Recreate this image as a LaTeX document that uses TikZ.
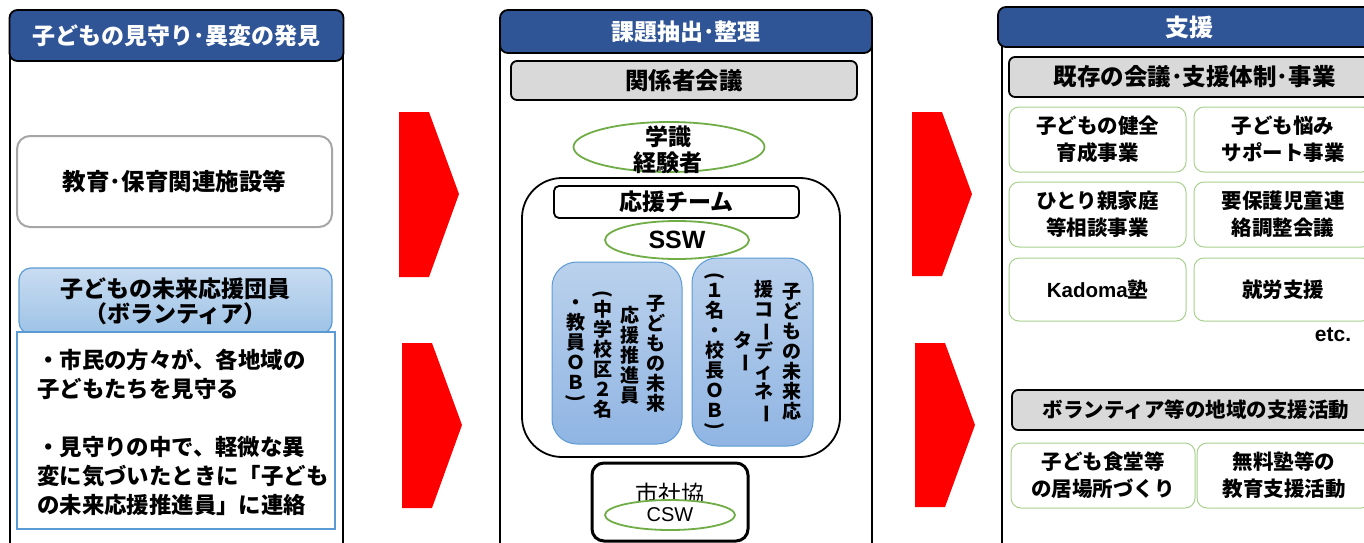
\documentclass[tikz,border=0pt]{standalone}
\usepackage{fontspec}
\setmainfont{Noto Sans CJK JP}
\newfontfamily\lat{Liberation Sans}
\usepackage{graphicx}
\usetikzlibrary{shapes.geometric}
\definecolor{hdrblue}{HTML}{2F5597}
\definecolor{grayfill}{HTML}{D9D9D9}
\definecolor{edugray}{HTML}{A6A6A6}
\definecolor{bluebord}{HTML}{5B9BD5}
\definecolor{voltop}{HTML}{C9DCF1}
\definecolor{volbot}{HTML}{9DC3E6}
\definecolor{vtop}{HTML}{BAD1EC}
\definecolor{vbot}{HTML}{90B5E3}
\definecolor{ellgreen}{HTML}{70AD47}
\definecolor{boxgreen}{HTML}{A9D08E}
\definecolor{arrred}{HTML}{FF0000}
\newcommand{\jfs}[2]{\fontsize{#1pt}{#2pt}\selectfont}
\newcommand{\rv}[1]{\rotatebox[origin=c]{-90}{#1}}
\tikzset{
  sz/.style 2 args={minimum width=#1pt, minimum height=#2pt},
  frame/.style={draw=black, line width=1.8pt},
  hdr/.style={draw=black, line width=1.8pt, fill=hdrblue, rounded corners=8pt, text=white, font=\bfseries\jfs{23}{26}, inner sep=0pt},
  graybox/.style={draw=black, line width=1.8pt, fill=grayfill, rounded corners=6pt, font=\bfseries\jfs{23.5}{26}, inner sep=0pt},
  edubox/.style={draw=edugray, line width=2pt, fill=white, rounded corners=13pt, font=\bfseries\jfs{23.5}{26}, inner sep=0pt},
  volbox/.style={draw=bluebord, line width=1.2pt, top color=voltop, bottom color=volbot, rounded corners=12pt, font=\bfseries\jfs{23}{25}, align=center, inner sep=0pt},
  txtbox/.style={draw=bluebord, line width=2pt, fill=white, inner sep=0pt},
  bodytext/.style={font=\bfseries\jfs{22.4}{29}, align=left, inner sep=0pt},
  ell/.style={ellipse, draw=ellgreen, line width=1.8pt, fill=white, inner sep=0pt},
  teambox/.style={draw=black, line width=1.8pt, rounded corners=40pt, inner sep=0pt},
  labelbox/.style={draw=black, line width=1.8pt, fill=white, rounded corners=5pt, font=\bfseries\jfs{23}{26}, inner sep=0pt},
  bluev/.style={draw=bluebord, line width=1pt, top color=vtop, bottom color=vbot, rounded corners=25pt, inner sep=0pt},
  vcol/.style={font=\bfseries\jfs{19}{20}, align=center, inner sep=0pt},
  shakyo/.style={draw=black, line width=3pt, fill=white, rounded corners=12pt, inner sep=0pt},
  gbox/.style={draw=boxgreen, line width=1pt, fill=white, rounded corners=10pt, font=\bfseries\jfs{20.5}{27}, align=center, inner sep=0pt},
  chevron/.style={fill=arrred}
}
\begin{document}
\begin{tikzpicture}[x=1pt,y=-1pt]
\useasboundingbox (0,0) rectangle (1364,542);
\clip (0,0) rectangle (1364,542);
\fill[white] (0,0) rectangle (1364,542);

% ---------- left panel ----------
\draw[frame] (10,30) rectangle (343,600);
\node[hdr, sz={334}{51}] (hL) at (176.5,35.5) {子どもの見守り･異変の発見};
\node[edubox, sz={315}{91}] (edu) at (174.5,181.5) {教育･保育関連施設等};
\node[volbox, sz={313}{66}] (vol) at (175.5,301) {子どもの未来応援団員\\（ボランティア）};
\node[txtbox, sz={318}{197}] (volbody) at (176,430.5) {};
\node[bodytext, anchor=north west] (voltext) at (37,349) {・市民の方々が、各地域の\\子どもたちを見守る\\[29pt]・見守りの中で、軽微な異\\変に気づいたときに「子ども\\の未来応援推進員」に連絡};

% ---------- arrows ----------
\fill[chevron] (399,112) -- (429,112) -- (459,194) -- (429,277) -- (399,277) -- cycle;
\fill[chevron] (402,343) -- (432,343) -- (462,425) -- (432,508) -- (402,508) -- cycle;
\fill[chevron] (912,112) -- (942,112) -- (972,194) -- (942,276) -- (912,276) -- cycle;
\fill[chevron] (915,343) -- (945,343) -- (975,425) -- (945,507) -- (915,507) -- cycle;

% ---------- middle panel ----------
\draw[frame] (500,30) rectangle (872,600);
\node[hdr, sz={372}{43}] (hM) at (686,31.5) {課題抽出･整理};
\node[graybox, sz={346}{39}] (kankei) at (684,80.5) {関係者会議};
\node[ell, sz={191}{50}] (gakuE) at (669,147) {};
\node[font=\bfseries\jfs{23}{26}, align=center, inner sep=0pt] (gaku) at (668,150) {学識\\経験者};
\node[teambox, sz={318}{279}] (team) at (681,317.5) {};
\node[labelbox, sz={245}{32}] (teamlbl) at (676.5,202) {応援チーム};
\node[ell, sz={144}{38}, font=\lat\bfseries\jfs{25}{25}] (ssw) at (677,240) {SSW};
\node[bluev, sz={130}{182}] (bL) at (617,353) {};
\node[bluev, sz={121}{188}] (bR) at (752.5,352) {};
\node[vcol] (l1) at (656,354) {子\\ど\\も\\の\\未\\来};
\node[vcol] (l2) at (630,355) {応\\援\\推\\進\\員};
\node[vcol] (l3) at (603,354) {\rv{(}\\[-4pt]中\\学\\校\\区\\２\\名};
\node[vcol] (l4) at (576,352) {・\\教\\員\\Ｏ\\Ｂ\\[-6pt]\rv{)}};
\node[vcol] (r1) at (792,352) {子\\ど\\も\\の\\未\\来\\応};
\node[vcol] (r2) at (764,352) {援\\コ\\\rv{ー}\\デ\\ィ\\ネ\\\rv{ー}};
\node[vcol] (r3) at (743,352) {タ\\\rv{ー}};
\node[vcol] (r4) at (715,352) {\rv{(}\\[-4pt]１\\名\\・\\校\\長\\Ｏ\\Ｂ\\[-6pt]\rv{)}};
\node[shakyo, sz={156}{78}] (shakyo) at (670,502) {};
\node[font=\jfs{23}{23}, inner sep=0pt] (shakyoT) at (670,494) {市社協};
\node[ell, sz={130}{30}, font=\lat\jfs{20}{20}] (csw) at (670,515) {CSW};

% ---------- right panel ----------
\draw[frame] (1002,30) rectangle (1400,600);
\node[hdr, sz={382}{40}, font=\bfseries\jfs{24}{26}] (hR) at (1189,27) {支援};
\node[graybox, sz={371}{40}] (kizon) at (1194.5,77) {既存の会議･支援体制･事業};
\node[gbox, sz={177}{65}] (g11) at (1097.5,139.5) {子どもの健全\\育成事業};
\node[gbox, sz={178}{65}] (g12) at (1283,139.5) {子ども悩み\\サポート事業};
\node[gbox, sz={177}{65}] (g21) at (1097.5,214.5) {ひとり親家庭\\等相談事業};
\node[gbox, sz={178}{65}] (g22) at (1283,214.5) {要保護児童連\\絡調整会議};
\node[gbox, sz={177}{63}] (g31) at (1097.5,289.5) {{\lat Kadoma}塾};
\node[gbox, sz={178}{63}] (g32) at (1283,289.5) {就労支援};
\node[font=\lat\bfseries\jfs{21}{21}, inner sep=0pt] (etc) at (1333,335) {etc.};
\node[graybox, sz={368}{40}, font=\bfseries\jfs{20.5}{24}] (volact) at (1196,410) {ボランティア等の地域の支援活動};
\node[gbox, sz={184}{65}] (g41) at (1103,475.5) {子ども食堂等\\の居場所づくり};
\node[gbox, sz={174}{65}] (g42) at (1284,475.5) {無料塾等の\\教育支援活動};
\end{tikzpicture}
\end{document}
